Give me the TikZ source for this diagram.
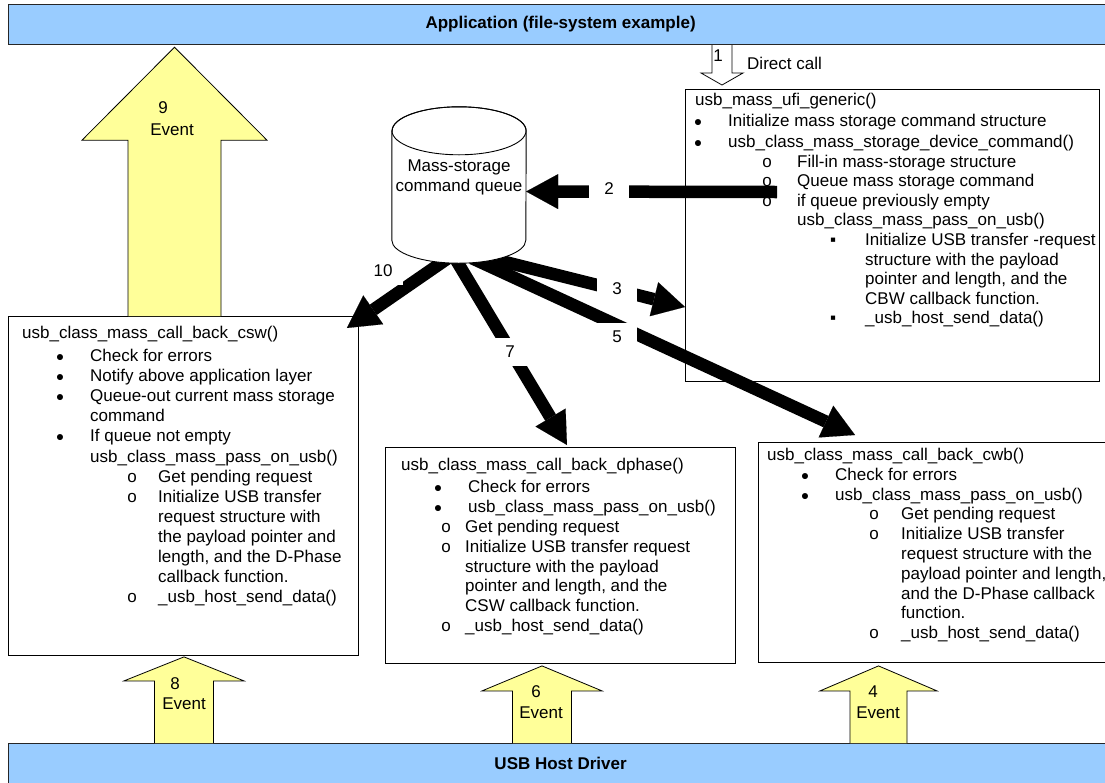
\documentclass[tikz,border=0pt]{standalone}
\usepackage{fontspec}
\setmainfont{Liberation Sans}
\usetikzlibrary{arrows.meta,calc}
\definecolor{barblue}{HTML}{99CCFF}
\definecolor{evyellow}{HTML}{FFFF99}

% one text line of a function box: marker centred at #1, text starting at #3
\newcommand\Ln[4]{\hbox{\rlap{\hspace*{#1pt}\makebox[0pt]{#2}}\hspace*{#3pt}#4}}
% title / continuation line starting at #1
\newcommand\Tl[2]{\hbox{\hspace*{#1pt}#2}}
% list markers
\newcommand\bul{{\fontsize{14}{14}\selectfont ●}}
\newcommand\sqm{▪}

% yellow block arrow going up from #1 to #2 at x=#3
% #4 gap below target, #5 head length, #6 head half width, #7 shaft half width
\newcommand\evarrow[7]{%
  \draw[evfill] let \p1=#1, \p2=#2 in
    (#3pt-#7pt,\y1) -- (#3pt-#7pt,\y2-#4pt-#5pt) -- (#3pt-#6pt,\y2-#4pt-#5pt)
    -- (#3pt,\y2-#4pt) -- (#3pt+#6pt,\y2-#4pt-#5pt) -- (#3pt+#7pt,\y2-#4pt-#5pt)
    -- (#3pt+#7pt,\y1);}

\tikzset{
  every node/.style={font=\fontsize{17}{20}\selectfont},
  bar/.style={draw=black!85, line width=1.2pt, fill=barblue, inner sep=0,
              anchor=north west, font=\fontsize{17}{20}\selectfont\bfseries},
  fnbox/.style={draw, line width=0.9pt, fill=white, anchor=north west, inner sep=0},
  boxtext/.style={anchor=base west, inner sep=0},
  flow/.style={line width=12.5pt, -{Triangle[length=32pt,width=35pt,line width=0.1pt]}},
  numlbl/.style={fill=white, inner sep=0, minimum width=40pt, minimum height=28pt},
  evfill/.style={draw, line width=0.8pt, fill=evyellow, line join=miter},
  hollow/.style={draw, line width=0.8pt, fill=white, line join=miter},
  cylline/.style={line width=0.9pt},
}

\begin{document}
\begin{tikzpicture}[x=1pt,y=-1pt]
\useasboundingbox (0,0) rectangle (1105,782);
\clip (0,0) rectangle (1105,782);

% layer bars
\node[bar, minimum width=1104pt, minimum height=40pt] (app) at (8,4) {Application (file-system example)};
\node[bar, minimum width=1104pt, minimum height=40pt] (drv) at (8,743) {USB Host Driver};

% function boxes
\node[fnbox, minimum width=414pt, minimum height=292pt] (ufi) at (685,89) {};
\node[fnbox, minimum width=350pt, minimum height=339pt] (csw) at (8,316) {};
\node[fnbox, minimum width=350pt, minimum height=216pt] (dph) at (385,447) {};
\node[fnbox, minimum width=360pt, minimum height=220pt] (cwb) at (758,442) {};

\node[boxtext] (ufitxt) at (685,105.5) {\parbox[t]{420pt}{\fontsize{17}{19.6}\selectfont
\Tl{10}{usb\_mass\_ufi\_generic()}\vskip1.4pt
\Ln{13}{\bul}{43}{Initialize mass storage command structure}\vskip1.4pt
\Ln{13}{\bul}{43}{usb\_class\_mass\_storage\_device\_command()}
\Ln{82}{o}{112}{Fill-in mass-storage structure}
\Ln{82}{o}{112}{Queue mass storage command}
\Ln{82}{o}{112}{if queue previously empty}
\Tl{112}{usb\_class\_mass\_pass\_on\_usb()}
\Ln{148}{\sqm}{180}{Initialize USB transfer -request}
\Tl{180}{structure with the payload}
\Tl{180}{pointer and length, and the}
\Tl{180}{CBW callback function.}
\Ln{148}{\sqm}{180}{\_usb\_host\_send\_data()}}};

\node[boxtext] (cswtxt) at (8,338.5) {\parbox[t]{350pt}{\fontsize{17}{20.1}\selectfont
\Tl{14}{usb\_class\_mass\_call\_back\_csw()}\vskip2.9pt
\Ln{52}{\bul}{82}{Check for errors}
\Ln{52}{\bul}{82}{Notify above application layer}
\Ln{52}{\bul}{82}{Queue-out current mass storage}
\Tl{82}{command}
\Ln{52}{\bul}{82}{If queue not empty}
\Tl{82}{usb\_class\_mass\_pass\_on\_usb()}
\Ln{124}{o}{150}{Get pending request}
\Ln{124}{o}{150}{Initialize USB transfer}
\Tl{150}{request structure with}
\Tl{150}{the payload pointer and}
\Tl{150}{length, and the D-Phase}
\Tl{150}{callback function.}
\Ln{124}{o}{150}{\_usb\_host\_send\_data()}}};

\node[boxtext] (dphtxt) at (385,470.5) {\parbox[t]{350pt}{\fontsize{17}{19.9}\selectfont
\Tl{16}{usb\_class\_mass\_call\_back\_dphase()}\vskip2pt
\Ln{53}{\bul}{83}{Check for errors}
\Ln{53}{\bul}{83}{usb\_class\_mass\_pass\_on\_usb()}
\Ln{61}{o}{80}{Get pending request}
\Ln{61}{o}{80}{Initialize USB transfer request}
\Tl{80}{structure with the payload}
\Tl{80}{pointer and length, and the}
\Tl{80}{CSW callback function.}
\Ln{61}{o}{80}{\_usb\_host\_send\_data()}}};

\node[boxtext] (cwbtxt) at (758,460.5) {\parbox[t]{360pt}{\fontsize{17}{19.8}\selectfont
\Tl{9}{usb\_class\_mass\_call\_back\_cwb()}
\Ln{47}{\bul}{77}{Check for errors}
\Ln{47}{\bul}{77}{usb\_class\_mass\_pass\_on\_usb()}
\Ln{116}{o}{143}{Get pending request}
\Ln{116}{o}{143}{Initialize USB transfer}
\Tl{143}{request structure with the}
\Tl{143}{payload pointer and length,}
\Tl{143}{and the D-Phase callback}
\Tl{143}{function.}
\Ln{116}{o}{143}{\_usb\_host\_send\_data()}}};

% command queue (cylinder body frame)
\node[minimum width=134pt, minimum height=109pt, inner sep=0] (cyl) at (459,185.5) {};

% thick flow arrows
\draw[flow] ($(ufi.north west)+(92,103)$) -- ($(cyl.east)+(0,6)$);
\draw[flow] ($(cyl.south)+(23,16)$) -- ($(ufi.north west)+(0,218)$);
\draw[flow] ($(cyl.south)+(13,18)$) -- ($(cwb.north west)+(97,-7)$);
\draw[flow] ($(cyl.south)+(-4,18)$) -- ($(dph.north west)+(182,-2)$);
\draw[flow] ($(cyl.south)+(-11,18)$) -- ($(csw.north east)+(-12,12)$);

% cylinder drawn over the arrow roots
\draw[cylline, fill=white] (cyl.north west) -- (cyl.south west)
  arc[start angle=180, end angle=360, x radius=67pt, y radius=23pt]
  -- (cyl.north east) arc[start angle=0, end angle=180, x radius=67pt, y radius=24pt] -- cycle;
\draw[cylline] (cyl.north) ellipse[x radius=67pt, y radius=24pt];
\node[align=center] (cyltxt) at (459,177) {Mass-storage\\command queue};

% step numbers on the flows
\node[numlbl] (n2) at (609,189) {2};
\node[numlbl] (n3) at (617,289) {3};
\node[numlbl] (n5) at (617,337) {5};
\node[numlbl] (n7) at (510,352) {7};
\node[numlbl] (n10) at (383,271) {10};

% direct call from the application
\draw[hollow] let \p1=(app.south), \p2=(ufi.north) in
  (712pt,\y1) -- (712pt,\y2+16pt) -- (701pt,\y2+16pt) -- (722pt,\y2+4pt)
  -- (743pt,\y2+16pt) -- (732pt,\y2+16pt) -- (732pt,\y1);
\node[inner sep=0] (n1) at (718,56) {1};
\node[anchor=west, inner sep=0] (dc) at (747,63) {Direct call};

% events
\evarrow{(csw.north)}{(app.south)}{174.5}{2}{93}{92.5}{46.5}
\node[inner sep=0] (e9n) at (163,108) {9};
\node[inner sep=0] (e9t) at (172,130) {Event};

\evarrow{(drv.north)}{(csw.south)}{184}{1}{24}{60}{29.5}
\node[inner sep=0] (e8n) at (175,684) {8};
\node[inner sep=0] (e8t) at (184,704) {Event};

\evarrow{(drv.north)}{(dph.south)}{542}{2}{25}{60}{29.5}
\node[inner sep=0] (e6n) at (536,692) {6};
\node[inner sep=0] (e6t) at (541,713) {Event};

\evarrow{(drv.north)}{(cwb.south)}{878.5}{3}{25}{58.5}{28.5}
\node[inner sep=0] (e4n) at (873,692) {4};
\node[inner sep=0] (e4t) at (878,713) {Event};
\end{tikzpicture}
\end{document}
